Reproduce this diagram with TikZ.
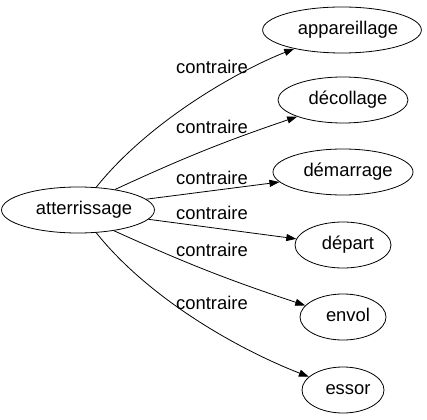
\documentclass[tikz,border=0pt]{standalone}
\usepackage{fontspec}
\setmainfont{Liberation Sans}
\usetikzlibrary{shapes.geometric,arrows.meta}
\begin{document}
\begin{tikzpicture}[x=1pt,y=-1pt,
  word/.style={draw,ellipse,line width=0.8pt,inner sep=0pt,minimum height=46pt,
    text height=13pt,text depth=4pt,font=\fontsize{18.4}{21}\selectfont},
  rel/.style={font=\fontsize{18.4}{21}\selectfont,inner sep=0pt},
  link/.style={line width=0.8pt,-{Triangle[length=10pt,width=7pt]}}]
\useasboundingbox (0,0) rectangle (427,419);
\node[word,minimum width=146pt] (att) at (78,210) {\kern12pt atterrissage};
\node[word,minimum width=154pt] (app) at (342,30) {\kern12pt appareillage};
\node[word,minimum width=130pt] (dec) at (343,100) {\kern10pt décollage};
\node[word,minimum width=138pt] (dem) at (343,172) {\kern10pt démarrage};
\node[word,minimum width=96pt] (dep) at (343,245) {\kern10pt départ};
\node[word,minimum width=86pt] (env) at (343,317) {\kern10pt envol};
\node[word,minimum width=82pt] (ess) at (343,390) {\kern10pt essor};
\draw[link] (att) .. controls (150,120) and (240,70) .. (app);
\draw[link] (att.29) to[bend left=3] (dec.200);
\draw[link] (att.9) -- (dem.189);
\draw[link] (att) -- (dep);
\draw[link] (att.-30) to[bend right=3] (env.163);
\draw[link] (att) .. controls (150,300) and (240,350) .. (ess);
\node[rel] (l1) at (212,67) {contraire};
\node[rel] (l2) at (212,127) {contraire};
\node[rel] (l3) at (212,178) {contraire};
\node[rel] (l4) at (212,213) {contraire};
\node[rel] (l5) at (212,250) {contraire};
\node[rel] (l6) at (212,303) {contraire};
\end{tikzpicture}
\end{document}
